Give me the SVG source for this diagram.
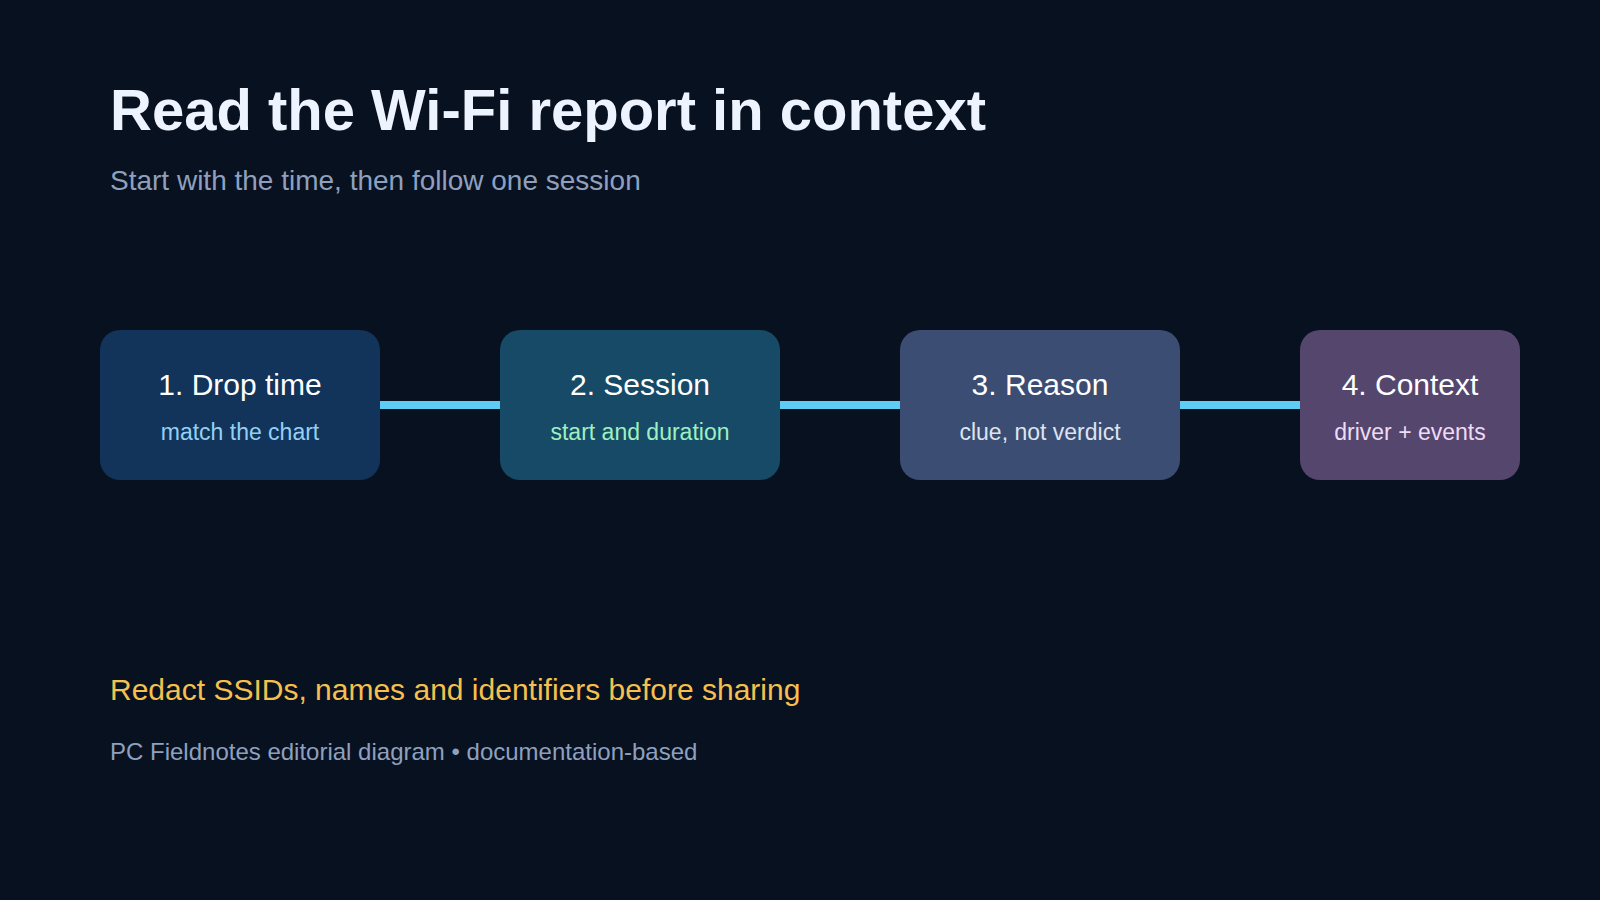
<svg xmlns="http://www.w3.org/2000/svg" width="1600" height="900" viewBox="0 0 1600 900">
<style>
text{font-family:"Liberation Sans",Arial,sans-serif}
.t{fill:#ffffff;font-size:30px;text-anchor:middle}
.s{font-size:23px;text-anchor:middle}
.c{stroke:#5ecdf6;stroke-width:8}
</style>
<rect width="1600" height="900" fill="#08111f"/>
<text x="110" y="130" font-size="58" font-weight="bold" fill="#eef4ff">Read the Wi-Fi report in context</text>
<text x="110" y="190" font-size="28" fill="#8fa0bf">Start with the time, then follow one session</text>
<g id="connectors">
<line class="c" x1="380" y1="405" x2="500" y2="405"/>
<line class="c" x1="780" y1="405" x2="900" y2="405"/>
<line class="c" x1="1180" y1="405" x2="1300" y2="405"/>
</g>
<g id="n1"><rect x="100" y="330" width="280" height="150" rx="20" fill="#12345a"/><text class="t" x="240" y="395">1. Drop time</text><text class="s" x="240" y="440" fill="#93d0f5">match the chart</text></g>
<g id="n2"><rect x="500" y="330" width="280" height="150" rx="20" fill="#174a66"/><text class="t" x="640" y="395">2. Session</text><text class="s" x="640" y="440" fill="#9ef0c0">start and duration</text></g>
<g id="n3"><rect x="900" y="330" width="280" height="150" rx="20" fill="#3b4d72"/><text class="t" x="1040" y="395">3. Reason</text><text class="s" x="1040" y="440" fill="#dde4f0">clue, not verdict</text></g>
<g id="n4"><rect x="1300" y="330" width="220" height="150" rx="20" fill="#55466e"/><text class="t" x="1410" y="395">4. Context</text><text class="s" x="1410" y="440" fill="#eedcf5">driver + events</text></g>
<text x="110" y="700" font-size="30" fill="#f5c04f">Redact SSIDs, names and identifiers before sharing</text>
<text x="110" y="760" font-size="24" fill="#8fa0bf">PC Fieldnotes editorial diagram • documentation-based</text>
</svg>
